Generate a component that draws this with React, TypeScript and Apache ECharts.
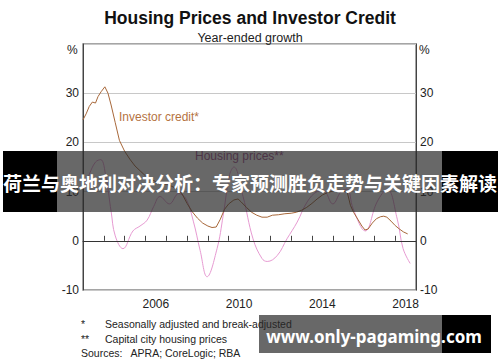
import React, { useEffect, useRef } from "react";
import * as echarts from "echarts";

const yearCategories = ["2003","2004","2005","2006","2007","2008","2009","2010","2011","2012","2013","2014","2015","2016","2017","2018"];
const shownYearLabels = ["2006", "2010", "2014", "2018"];
const yTicks = [-10, 0, 10, 20, 30];

const investorCredit: [number, number][] = [
  [2003.0, 24.6], [2003.15, 25.8], [2003.3, 27.3], [2003.45, 28.2], [2003.6, 28.0],
  [2003.72, 29.3], [2003.87, 30.3], [2004.05, 31.3], [2004.2, 30.0], [2004.35, 27.6],
  [2004.55, 24.0], [2004.75, 20.4], [2005.0, 18.2], [2005.25, 16.6], [2005.5, 15.2],
  [2005.75, 14.2], [2006.0, 13.2], [2006.25, 12.6], [2006.5, 12.0], [2006.75, 11.6],
  [2007.0, 11.5], [2007.25, 11.1], [2007.5, 10.6], [2007.75, 9.6], [2008.0, 7.6],
  [2008.25, 5.9], [2008.5, 4.6], [2008.75, 3.6], [2009.0, 3.0], [2009.2, 2.7],
  [2009.4, 2.8], [2009.6, 4.4], [2009.8, 6.4], [2010.0, 7.5], [2010.25, 8.3],
  [2010.45, 8.5], [2010.6, 7.9], [2010.85, 6.8], [2011.1, 5.8], [2011.35, 5.2],
  [2011.6, 4.8], [2011.85, 4.8], [2012.1, 5.2], [2012.4, 5.3], [2012.7, 5.5],
  [2013.0, 5.6], [2013.25, 5.8], [2013.5, 6.2], [2013.75, 6.8], [2014.0, 7.6],
  [2014.25, 8.5], [2014.5, 9.3], [2014.75, 9.8], [2015.0, 10.1], [2015.25, 10.3],
  [2015.5, 10.2], [2015.7, 9.8], [2015.85, 7.2], [2016.0, 5.8], [2016.2, 4.4],
  [2016.4, 3.0], [2016.55, 2.2], [2016.7, 2.4], [2016.9, 3.6], [2017.1, 4.5],
  [2017.3, 4.9], [2017.45, 5.0], [2017.6, 4.8], [2017.8, 4.0], [2018.0, 3.1],
  [2018.2, 2.4], [2018.4, 1.8], [2018.6, 1.4],
];

const housingPrices: [number, number][] = [
  [2003.0, 10.5], [2003.3, 13.5], [2003.6, 16.0], [2003.85, 16.5], [2004.1, 13.0],
  [2004.35, 6.0], [2004.55, 1.0], [2004.92, -1.6], [2005.4, 2.0], [2005.74, 3.0],
  [2006.08, 4.2], [2006.4, 7.0], [2006.7, 9.0], [2007.15, 7.5], [2007.6, 9.6],
  [2007.95, 8.5], [2008.3, 4.0], [2008.63, -2.0], [2008.96, -7.3], [2009.44, -1.6],
  [2009.73, 5.0], [2010.05, 13.5], [2010.25, 15.0], [2010.69, 9.0], [2011.17, 0.4],
  [2011.6, -3.6], [2011.85, -4.2], [2012.33, -3.0], [2012.8, 0.4], [2013.29, 3.8],
  [2013.77, 7.9], [2014.25, 10.0], [2014.55, 10.2], [2015.0, 7.5], [2015.4, 10.0],
  [2015.69, 10.5], [2015.98, 6.5], [2016.56, 2.0], [2017.13, 7.9], [2017.62, 10.5],
  [2018.1, 4.4], [2018.38, -1.6], [2018.72, -4.6],
];

const footnotes = [
  ["*", "Seasonally adjusted and break-adjusted"],
  ["**", "Capital city housing prices"],
];
const sourcesText = "Sources:   APRA; CoreLogic; RBA";

const FONT = "'Liberation Sans', Arial, sans-serif";

export default function App() {
  const ref = useRef<HTMLDivElement>(null);
  useEffect(() => {
    if (!ref.current) return;
    const chart = echarts.init(ref.current, null, { renderer: "svg" });
    const axisLabelStyle = { color: "#222", fontSize: 12, fontFamily: FONT };
    const yAxisCommon = {
      type: "value" as const,
      min: -10,
      max: 40,
      interval: 10,
      axisLine: { show: true, lineStyle: { color: "#444", width: 1 } },
      axisTick: { show: false },
      splitLine: { show: true, lineStyle: { color: "#c8c8c8", width: 1 } },
    };
    const option: any = {
      animation: false,
      backgroundColor: "#fff",
      title: [
        {
          text: "Housing Prices and Investor Credit",
          left: "center",
          top: 4,
          textStyle: { fontFamily: FONT, fontSize: 17.5, fontWeight: "bold", color: "#111" },
        },
        {
          text: "Year-ended growth",
          left: "center",
          top: 26,
          textStyle: { fontFamily: FONT, fontSize: 12.5, fontWeight: "normal", color: "#222" },
        },
      ],
      grid: {
        left: 83, right: 84, top: 44, bottom: 72,
        show: true, borderColor: "#888", borderWidth: 1.5, backgroundColor: "transparent",
      },
      xAxis: [
        {
          type: "category",
          data: yearCategories,
          boundaryGap: true,
          position: "bottom",
          axisLine: { show: true, lineStyle: { color: "#444" } },
          axisTick: { show: true, inside: true, length: 5, interval: 0, alignWithLabel: false, lineStyle: { color: "#444" } },
          axisLabel: {
            ...axisLabelStyle,
            interval: 0,
            margin: 8,
            formatter: (v: string) => (shownYearLabels.includes(v) ? v : ""),
          },
          splitLine: { show: false },
        },
        {
          type: "value",
          min: 2003,
          max: 2019,
          show: false,
        },
      ],
      yAxis: [
        {
          ...yAxisCommon,
          position: "left",
          axisLabel: { ...axisLabelStyle, margin: 4, formatter: (v: number) => (yTicks.includes(v) ? String(v) : "") },
        },
        {
          ...yAxisCommon,
          position: "right",
          splitLine: { show: false },
          axisLabel: { ...axisLabelStyle, margin: 4, formatter: (v: number) => (yTicks.includes(v) ? String(v) : "") },
        },
      ],
      series: [
        {
          name: "Housing prices",
          type: "line",
          xAxisIndex: 1,
          yAxisIndex: 0,
          data: housingPrices,
          smooth: 0.4,
          showSymbol: false,
          lineStyle: { color: "#e79ad2", width: 1 },
          markLine: {
            silent: true,
            symbol: "none",
            label: { show: false },
            lineStyle: { color: "#333", width: 1, type: "solid" },
            data: [{ yAxis: 0 }],
          },
        },
        {
          name: "Investor credit",
          type: "line",
          xAxisIndex: 1,
          yAxisIndex: 0,
          data: investorCredit,
          smooth: false,
          showSymbol: false,
          lineStyle: { color: "#a8683a", width: 1 },
        },
      ],
      graphic: [
        { type: "text", left: 67, top: 44, style: { text: "%", font: `12px ${FONT}`, fill: "#222" } },
        { type: "text", left: 419, top: 44, style: { text: "%", font: `12px ${FONT}`, fill: "#222" } },
        { type: "text", left: 119, top: 111, z: 10, style: { text: "Investor credit*", font: `12px ${FONT}`, fill: "#b5733f" } },
        { type: "text", left: 195, top: 150, z: 10, style: { text: "Housing prices**", font: `12px ${FONT}`, fill: "#a0508c" } },
        ...footnotes.flatMap((f, i) => [
          { type: "text", left: 81, top: 318 + i * 15, style: { text: f[0], font: `10.5px ${FONT}`, fill: "#222" } },
          { type: "text", left: 105, top: 318 + i * 15, style: { text: f[1], font: `10.5px ${FONT}`, fill: "#222" } },
        ]),
        { type: "text", left: 81, top: 347, style: { text: sourcesText, font: `10.5px ${FONT}`, fill: "#222" } },
        // overlay banners
        { type: "rect", z: 100, shape: { x: 57, y: 151, width: 385, height: 61 }, style: { fill: "rgba(40,40,40,0.7)" } },
        { type: "rect", z: 100, shape: { x: 3, y: 151, width: 54, height: 61 }, style: { fill: "#000" } },
        { type: "rect", z: 100, shape: { x: 442, y: 151, width: 56, height: 61 }, style: { fill: "#000" } },
        {
          type: "text", z: 101, x: 250, y: 182,
          style: {
            text: "荷兰与奥地利对决分析：专家预测胜负走势与关键因素解读",
            font: `bold 19px 'Noto Sans CJK SC', sans-serif`, fill: "#fff",
            align: "center", verticalAlign: "middle",
          },
        },
        { type: "rect", z: 100, shape: { x: 259, y: 315, width: 183, height: 38 }, style: { fill: "rgba(40,40,40,0.7)" } },
        { type: "rect", z: 100, shape: { x: 442, y: 315, width: 49, height: 38 }, style: { fill: "#000" } },
        {
          type: "text", z: 101, x: 374, y: 336,
          style: {
            text: "www.only-pagaming.com",
            font: `bold 17px 'Noto Sans', sans-serif`, fill: "#fff",
            align: "center", verticalAlign: "middle",
          },
        },
      ],
    };
    chart.setOption(option);
    return () => chart.dispose();
  }, []);
  return <div ref={ref} style={{ width: 500, height: 362, position: "absolute", left: 0, top: 0 }} />;
}
